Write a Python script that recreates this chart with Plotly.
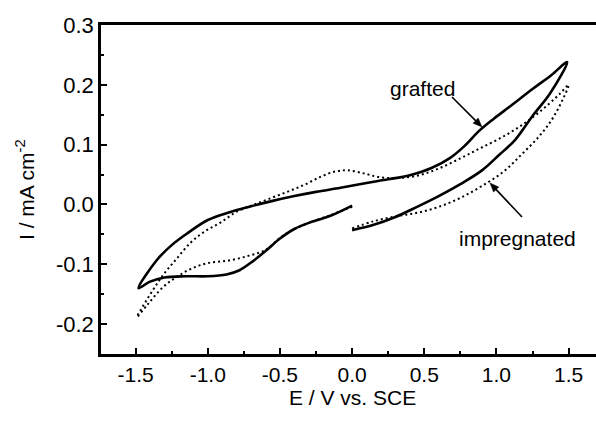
import math
import plotly.graph_objects as go

# Data (E in V vs. SCE, I in mA cm-2)
grafted_E = [0.00, 0.15, 0.30, 0.45, 0.60, 0.75, 0.90, 1.02, 1.13, 1.25, 1.37, 1.49,
             1.38, 1.25, 1.10, 0.98, 0.88, 0.78, 0.68, 0.55, 0.40, 0.25, 0.10, -0.08, -0.25, -0.40,
             -0.55, -0.70, -0.85, -1.00, -1.14, -1.25, -1.35, -1.48,
             -1.40, -1.30, -1.15, -1.00, -0.87, -0.78, -0.70, -0.60, -0.50, -0.40, -0.28, -0.15, 0.00]
grafted_I = [-0.043, -0.034, -0.021, -0.004, 0.014, 0.034, 0.057, 0.083, 0.108, 0.148, 0.185, 0.238,
             0.216, 0.193, 0.165, 0.143, 0.123, 0.098, 0.078, 0.061, 0.049, 0.042, 0.036, 0.028, 0.021, 0.014,
             0.006, -0.003, -0.013, -0.026, -0.048, -0.068, -0.092, -0.140,
             -0.129, -0.122, -0.120, -0.120, -0.117, -0.110, -0.097, -0.078, -0.057, -0.041, -0.029, -0.019, -0.002]

impregnated_E = [0.00, 0.15, 0.30, 0.45, 0.60, 0.75, 0.90, 1.05, 1.18, 1.30, 1.40, 1.50,
                 1.44, 1.30, 1.16, 1.02, 0.88, 0.75, 0.60, 0.45, 0.30, 0.18, 0.08, -0.03, -0.12, -0.22,
                 -0.33, -0.45, -0.58, -0.70, -0.80, -0.91, -1.02, -1.12, -1.22, -1.30, -1.38, -1.49,
                 -1.42, -1.31, -1.22, -1.12, -1.00, -0.86, -0.72, -0.60, -0.50, -0.40, -0.28, -0.14, 0.00]
impregnated_I = [-0.040, -0.028, -0.020, -0.014, -0.004, 0.011, 0.031, 0.055, 0.085, 0.115, 0.148, 0.200,
                 0.185, 0.155, 0.130, 0.110, 0.093, 0.077, 0.060, 0.048, 0.044, 0.046, 0.052, 0.057, 0.055, 0.046,
                 0.033, 0.021, 0.009, -0.002, -0.012, -0.030, -0.045, -0.064, -0.092, -0.115, -0.143, -0.188,
                 -0.168, -0.138, -0.122, -0.108, -0.098, -0.094, -0.086, -0.076, -0.056, -0.041, -0.029, -0.017, -0.004]

x_ticks = [-1.5, -1.0, -0.5, 0.0, 0.5, 1.0, 1.5]
y_ticks = [-0.2, -0.1, 0.0, 0.1, 0.2, 0.3]
x_title = "E / V vs. SCE"
y_title = "I / mA cm<sup>-2</sup>"

FONT = "Liberation Sans, Arial, sans-serif"

W, H = 596, 422
ML, MR, MT, MB = 101, 0, 25, 68
XR = [-1.74, 1.69]
YR = [-0.25, 0.3]
PW, PH = W - ML - MR, H - MT - MB


def px2data(px, py):
    x = XR[0] + (px - ML) / PW * (XR[1] - XR[0])
    y = YR[1] - (py - MT) / PH * (YR[1] - YR[0])
    return x, y


def px2paper(px, py):
    return (px - ML) / PW, (H - MB - py) / PH


def arrow_shapes(tail, head, hl=9.0, hw=3.6):
    tx, ty = tail
    hx, hy = head
    d = math.hypot(hx - tx, hy - ty)
    ux, uy = (hx - tx) / d, (hy - ty) / d
    bx, by = hx - ux * hl, hy - uy * hl
    p1 = (bx - uy * hw, by + ux * hw)
    p2 = (bx + uy * hw, by - ux * hw)
    a = px2data(tx, ty)
    b = px2data(bx + ux, by + uy)
    line = dict(type="line", xref="x", yref="y", x0=a[0], y0=a[1], x1=b[0], y1=b[1],
                line=dict(color="black", width=1.6))
    pts = [px2data(*p) for p in (head, p1, p2)]
    path = "M {} {} L {} {} L {} {} Z".format(pts[0][0], pts[0][1], pts[1][0], pts[1][1], pts[2][0], pts[2][1])
    tri = dict(type="path", xref="x", yref="y", path=path, fillcolor="black",
               line=dict(color="black", width=0.5))
    return [line, tri]


fig = go.Figure()
fig.add_trace(go.Scatter(x=grafted_E, y=grafted_I, mode="lines", name="grafted",
                         line=dict(color="black", width=2.6, shape="spline", smoothing=1.0)))
fig.add_trace(go.Scatter(x=impregnated_E, y=impregnated_I, mode="lines", name="impregnated",
                         line=dict(color="black", width=2, dash="2px,3px", shape="spline", smoothing=1.0)))

fig.update_layout(
    width=W, height=H,
    margin=dict(l=ML, r=MR, t=MT, b=MB),
    paper_bgcolor="white", plot_bgcolor="white",
    showlegend=False,
    font=dict(family=FONT, color="black"),
    xaxis=dict(range=XR, tickvals=x_ticks, ticktext=[f"{v:.1f}" for v in x_ticks],
               ticks="inside", ticklen=6, tickwidth=2, tickcolor="black",
               minor=dict(ticks="inside", ticklen=3, tickwidth=2, tickcolor="black", dtick=0.25, tick0=0),
               showline=True, linecolor="black", linewidth=2.5, mirror=True,
               showgrid=False, zeroline=False,
               tickfont=dict(size=21, family=FONT, color="black")),
    yaxis=dict(range=YR, tickvals=y_ticks, ticktext=[f"{v:.1f}" for v in y_ticks],
               ticks="inside", ticklen=6, tickwidth=2, tickcolor="black",
               minor=dict(ticks="inside", ticklen=3, tickwidth=2, tickcolor="black", dtick=0.05, tick0=0),
               showline=True, linecolor="black", linewidth=2.5, mirror=False,
               showgrid=False, zeroline=False,
               tickfont=dict(size=22, family=FONT, color="black")),
)

shapes = arrow_shapes((452, 97), (482, 127)) + arrow_shapes((522, 217), (490, 183))
fig.update_layout(shapes=shapes)

# axis titles
xt = px2paper(352, 398)
yt = px2paper(25, 190)
fig.add_annotation(x=0, xref="x", y=xt[1], yref="paper", text=x_title, showarrow=False,
                   xanchor="center", yanchor="middle",
                   font=dict(size=21, family=FONT, color="black"))
fig.add_annotation(x=yt[0], xref="paper", y=yt[1], yref="paper", text=y_title, showarrow=False,
                   textangle=-90, xanchor="center", yanchor="middle",
                   font=dict(size=21, family=FONT, color="black"))

gx, gy = px2data(422, 88)
ix, iy = px2data(517, 238)
fig.add_annotation(x=gx, y=gy, text="grafted", showarrow=False,
                   font=dict(size=21, family=FONT, color="black"))
fig.add_annotation(x=ix, y=iy, text="impregnated", showarrow=False,
                   font=dict(size=21, family=FONT, color="black"))

fig.write_html("out.html")
